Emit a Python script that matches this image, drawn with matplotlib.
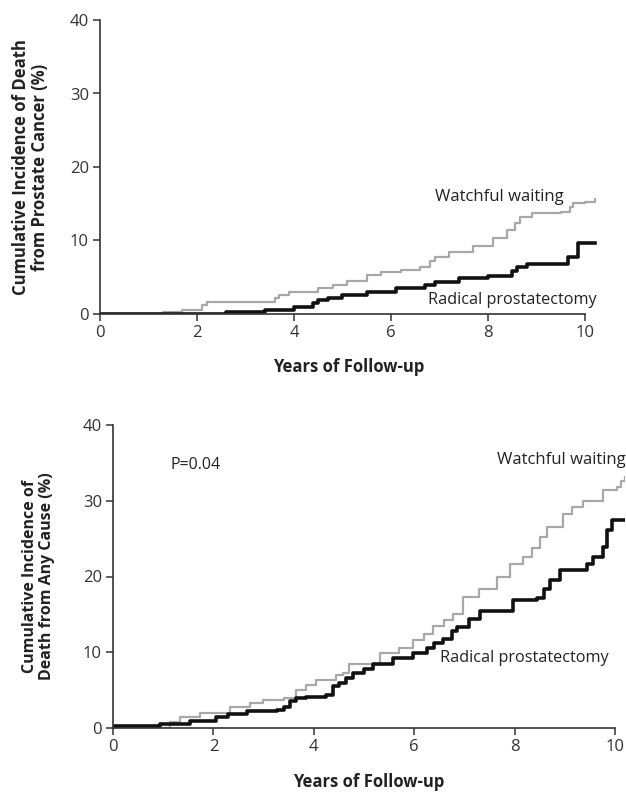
import matplotlib
matplotlib.use("Agg")
from matplotlib import pyplot as plt

plt.rcParams['font.family'] = ['Open Sans', 'DejaVu Sans']

# top panel: death from prostate cancer
top_ww_years = [0, 1.3, 1.7, 2.1, 2.2, 3.6, 3.7, 3.9, 4.5, 4.8, 5.1, 5.5, 5.8, 6.2, 6.6,
                6.8, 6.9, 7.2, 7.7, 8.1, 8.4, 8.55, 8.66, 8.9, 9.5, 9.7, 9.75, 10.0, 10.2]
top_ww_pct = [0, 0.3, 0.6, 1.2, 1.7, 2.2, 2.6, 3.0, 3.5, 3.9, 4.5, 5.3, 5.7, 6.0, 6.4,
              7.2, 7.8, 8.5, 9.2, 10.3, 11.4, 12.4, 13.2, 13.7, 13.9, 14.6, 15.1, 15.3, 15.6]
top_rp_years = [0, 2.6, 3.4, 4.0, 4.4, 4.5, 4.7, 5.0, 5.5, 6.1, 6.7, 6.9, 7.4, 8.0, 8.5,
                8.6, 8.8, 9.65, 9.85, 10.2]
top_rp_pct = [0, 0.3, 0.6, 1.0, 1.5, 1.9, 2.2, 2.6, 3.0, 3.5, 3.9, 4.4, 4.9, 5.2, 5.8,
              6.4, 6.8, 7.8, 9.6, 9.6]

# bottom panel: death from any cause
bot_ww_years = [0, 1.14, 1.33, 1.73, 2.33, 2.73, 2.99, 3.4, 3.65, 3.85, 4.05, 4.45, 4.58,
                4.7, 5.32, 5.7, 5.98, 6.2, 6.38, 6.6, 6.78, 6.98, 7.3, 7.65, 7.9, 8.17,
                8.35, 8.5, 8.64, 8.96, 9.15, 9.36, 9.76, 10.04, 10.12, 10.2]
bot_ww_pct = [0, 0.8, 1.5, 2.0, 2.8, 3.3, 3.7, 4.0, 5.0, 5.7, 6.3, 7.0, 7.2,
              8.5, 9.9, 10.6, 11.6, 12.4, 13.4, 14.3, 15.1, 17.3, 18.3, 19.9, 21.7, 22.6,
              23.8, 25.2, 26.5, 28.3, 29.2, 30.0, 31.4, 31.8, 32.6, 33.1]
bot_rp_years = [0, 0.94, 1.53, 2.06, 2.3, 2.66, 3.26, 3.4, 3.52, 3.65, 3.85, 4.25, 4.38,
                4.5, 4.65, 4.79, 5.0, 5.18, 5.58, 5.98, 6.25, 6.4, 6.58, 6.75, 6.85, 7.1,
                7.31, 7.97, 8.44, 8.58, 8.7, 8.9, 9.44, 9.56, 9.76, 9.84, 9.94, 10.2]
bot_rp_pct = [0.3, 0.5, 0.9, 1.5, 1.8, 2.2, 2.4, 2.8, 3.5, 3.9, 4.1, 4.4, 5.5,
              5.9, 6.6, 7.2, 7.8, 8.5, 9.2, 9.9, 10.5, 11.2, 11.8, 12.8, 13.3, 14.4,
              15.4, 16.9, 17.1, 18.4, 19.5, 20.8, 21.7, 22.6, 23.9, 26.1, 27.4, 27.4]

x_ticks = [0, 2, 4, 6, 8, 10]
y_ticks = [0, 10, 20, 30, 40]

W, H = 626, 793
fig = plt.figure(figsize=(W / 100, H / 100), dpi=100)


def style(ax, xmax):
    ax.set_xlim(0, xmax)
    ax.set_ylim(0, 40)
    ax.set_xticks(x_ticks)
    ax.set_yticks(y_ticks)
    for s in ['top', 'right']:
        ax.spines[s].set_visible(False)
    for s in ['left', 'bottom']:
        ax.spines[s].set_color('#333333')
        ax.spines[s].set_linewidth(1.2)
    ax.spines['bottom'].set_bounds(0, 10)
    ax.tick_params(length=5, width=1.1, color='#333333', labelsize=12,
                   labelcolor='#333333', pad=3)
    ax.set_facecolor('none')


# top axes
ax1 = fig.add_axes([100 / W, (H - 314) / H, 497 / W, 294 / H])
style(ax1, 10.25)
ax1.step(top_ww_years, top_ww_pct, where='post', color='#a8a8a8', lw=1.6)
ax1.step(top_rp_years, top_rp_pct, where='post', color='#111111', lw=2.6)
ax1.text(6.9, 15.9, 'Watchful waiting', fontsize=12, color='#222222', va='center')
ax1.text(6.76, 1.9, 'Radical prostatectomy', fontsize=11.7, color='#222222', va='center')
ax1.set_ylabel('Cumulative Incidence of Death\nfrom Prostate Cancer (%)',
               fontsize=12, fontweight='bold', color='#222222', labelpad=15,
               linespacing=1.05)
ax1.set_xlabel('Years of Follow-up', fontsize=12, fontweight='bold',
               color='#222222', labelpad=12)

# bottom axes
ax2 = fig.add_axes([113 / W, (H - 728) / H, 512 / W, 303 / H])
style(ax2, 10.2)
ax2.step(bot_ww_years, bot_ww_pct, where='post', color='#a8a8a8', lw=1.6)
ax2.step(bot_rp_years, bot_rp_pct, where='post', color='#111111', lw=2.6)
ax2.text(1.14, 34.7, 'P=0.04', fontsize=11.5, color='#222222', va='center')
ax2.text(7.65, 35.4, 'Watchful waiting', fontsize=12, color='#222222', va='center',
         clip_on=False)
ax2.text(6.51, 9.2, 'Radical prostatectomy', fontsize=11.7, color='#222222', va='center')
ax2.set_ylabel('Cumulative Incidence of\nDeath from Any Cause (%)',
               fontsize=11.5, fontweight='bold', color='#222222', labelpad=20,
               linespacing=1.05)
ax2.set_xlabel('Years of Follow-up', fontsize=12, fontweight='bold',
               color='#222222', labelpad=13)

fig.savefig('out.png', dpi=100)
